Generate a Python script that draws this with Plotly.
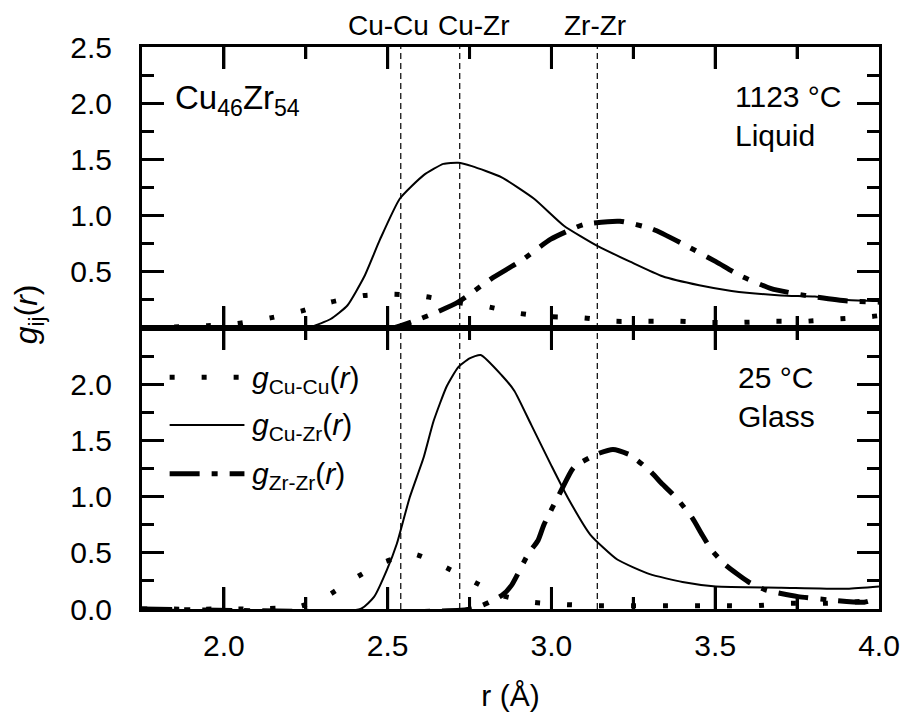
import plotly.graph_objects as go

# ---- partial pair distribution functions, Cu46Zr54 ----
# liquid, 1123 °C
r_cucu_liq = [1.75, 1.949, 2.040, 2.142, 2.236, 2.326, 2.429, 2.519, 2.613, 2.706, 2.803,
              2.902, 2.998, 3.098, 3.194, 3.291, 3.390, 3.487, 3.587, 3.683, 3.777, 3.873,
              3.973, 4.0]
g_cucu_liq = [0.0, 0.02, 0.04, 0.09, 0.15, 0.23, 0.29, 0.30, 0.28, 0.23, 0.19,
              0.13, 0.10, 0.09, 0.06, 0.06, 0.06, 0.05, 0.05, 0.06, 0.06, 0.08,
              0.10, 0.11]

r_cuzr_liq = [1.75, 2.227, 2.266, 2.326, 2.377, 2.429, 2.477, 2.537, 2.610, 2.670, 2.715,
              2.757, 2.848, 2.947, 3.038, 3.140, 3.240, 3.339, 3.451, 3.550, 3.701,
              3.804, 3.903, 4.0]
g_cuzr_liq = [0.0, 0.0, 0.01, 0.08, 0.20, 0.46, 0.79, 1.15, 1.36, 1.46, 1.47,
              1.44, 1.34, 1.15, 0.91, 0.73, 0.59, 0.46, 0.38, 0.33, 0.29,
              0.28, 0.25, 0.24]

r_zrzr_liq = [1.75, 2.513, 2.588, 2.649, 2.715, 2.817, 2.908, 2.998, 3.098, 3.209, 3.309,
              3.400, 3.502, 3.580, 3.671, 3.774, 3.903, 4.0]
g_zrzr_liq = [0.0, 0.0, 0.07, 0.14, 0.23, 0.44, 0.60, 0.79, 0.92, 0.95, 0.88,
              0.75, 0.59, 0.46, 0.35, 0.29, 0.24, 0.23]

# glass, 25 °C
r_cucu_gl = [1.75, 2.227, 2.317, 2.392, 2.483, 2.579, 2.664, 2.751, 2.848, 2.944, 3.038,
             3.134, 3.234, 3.330, 3.430, 3.526, 3.626, 3.722, 3.819, 3.918, 4.0]
g_cucu_gl = [0.0, 0.02, 0.12, 0.26, 0.41, 0.49, 0.39, 0.26, 0.12, 0.06, 0.04,
             0.03, 0.03, 0.03, 0.03, 0.03, 0.03, 0.05, 0.05, 0.06, 0.09]

r_cuzr_gl = [1.75, 2.417, 2.459, 2.498, 2.528, 2.567, 2.610, 2.640, 2.680, 2.715, 2.750,
             2.784, 2.848, 2.887, 2.938, 2.999, 3.050, 3.119, 3.201, 3.300, 3.400,
             3.502, 3.701, 3.903, 4.0]
g_cuzr_gl = [0.0, 0.0, 0.11, 0.35, 0.58, 0.99, 1.35, 1.67, 1.98, 2.15, 2.23,
             2.26, 2.08, 1.94, 1.64, 1.28, 0.99, 0.66, 0.44, 0.31, 0.24,
             0.20, 0.19, 0.18, 0.20]

r_zrzr_gl = [1.75, 2.757, 2.848, 2.878, 2.929, 2.959, 2.977, 3.029, 3.068, 3.140, 3.188,
             3.240, 3.300, 3.339, 3.381, 3.430, 3.460, 3.490, 3.532, 3.602, 3.653,
             3.753, 3.852, 3.955, 4.0]
g_zrzr_gl = [0.0, 0.0, 0.12, 0.21, 0.49, 0.61, 0.75, 1.05, 1.26, 1.38, 1.42,
             1.37, 1.23, 1.11, 0.99, 0.81, 0.66, 0.52, 0.39, 0.24, 0.17,
             0.11, 0.08, 0.06, 0.10]

# nearest-neighbour peak positions (Å)
peak_names = ["Cu-Cu", "Cu-Zr", "Zr-Zr"]
peak_r = [2.54, 2.72, 3.14]
peak_label_shift = [-12, 14, -2]

x_major_ticks = [2.0, 2.5, 3.0, 3.5]
x_minor_ticks = [2.25, 2.75, 3.25, 3.75]
y_ticks_top = [0.5, 1.0, 1.5, 2.0, 2.5]
y_ticks_bottom = [0.0, 0.5, 1.0, 1.5, 2.0]

pair_labels = ["<i>g</i><sub>Cu-Cu</sub>(<i>r</i>)",
               "<i>g</i><sub>Cu-Zr</sub>(<i>r</i>)",
               "<i>g</i><sub>Zr-Zr</sub>(<i>r</i>)"]

FONT = "Liberation Sans, Arial, sans-serif"
BLACK = "black"
PAD = "\u2002\u2009"   # gap between y tick labels and the axis line

WIDTH, HEIGHT = 912, 719
MARGIN = dict(l=142, r=24, t=47, b=107)
PLOT_H = HEIGHT - MARGIN["t"] - MARGIN["b"]
MAJOR_LEN, MINOR_LEN = 22, 12

# line styles per pair
styles = [
    dict(width=5, dash="5px,27px"),              # Cu-Cu: dotted
    dict(width=2, dash="solid"),                 # Cu-Zr: solid
    dict(width=5, dash="30px,12px,6px,12px"),    # Zr-Zr: dash-dot
]

fig = go.Figure()
panels = [
    ("x", "y", [(r_cucu_liq, g_cucu_liq), (r_cuzr_liq, g_cuzr_liq), (r_zrzr_liq, g_zrzr_liq)]),
    ("x2", "y2", [(r_cucu_gl, g_cucu_gl), (r_cuzr_gl, g_cuzr_gl), (r_zrzr_gl, g_zrzr_gl)]),
]
for xa, ya, series in panels:
    for (rv, gv), st, name in zip(series, styles, pair_labels):
        fig.add_trace(go.Scatter(
            x=rv, y=gv, xaxis=xa, yaxis=ya, mode="lines", name=name, showlegend=False,
            line=dict(color=BLACK, width=st["width"], dash=st["dash"],
                      shape="spline", smoothing=0.5)))

frame = dict(showline=True, linewidth=3, linecolor=BLACK, mirror="ticks",
             ticks="inside", ticklen=MAJOR_LEN, tickwidth=3, tickcolor=BLACK,
             showgrid=False, zeroline=False)
minor_ticks = dict(ticks="inside", ticklen=MINOR_LEN, tickwidth=3, tickcolor=BLACK,
                   dtick=0.25)

x_common = dict(frame, range=[1.75, 4.0], tick0=2.0, dtick=0.5,
                minor=dict(minor_ticks, tick0=2.0))
y_common = dict(frame, range=[0, 2.5], tickmode="array",
                minor=dict(minor_ticks, tick0=0.0),
                tickfont=dict(family=FONT, size=30, color=BLACK))

fig.update_layout(
    xaxis=dict(x_common, domain=[0, 1], anchor="y", showticklabels=False),
    yaxis=dict(y_common, domain=[0.5, 1], anchor="x",
               tickvals=y_ticks_top, ticktext=[f"{v:.1f}{PAD}" for v in y_ticks_top]),
    xaxis2=dict(x_common, domain=[0, 1], anchor="y2", showticklabels=True,
                tickformat=".1f", ticklabelstandoff=8,
                tickfont=dict(family=FONT, size=30, color=BLACK),
                title=dict(text="r (Å)", font=dict(family=FONT, size=30, color=BLACK),
                           standoff=24)),
    yaxis2=dict(y_common, domain=[0, 0.5], anchor="x2",
                tickvals=y_ticks_bottom,
                ticktext=[f"{v:.1f}{PAD}" for v in y_ticks_bottom]),
)

# r-axis tick marks on every horizontal frame edge, pointing into each panel
edges = [(1.0, -1), (0.5, +1), (0.5, -1), (0.0, +1)]   # (paper y, direction)
for ticks_r, length in ((x_major_ticks, MAJOR_LEN), (x_minor_ticks, MINOR_LEN)):
    dy = length / PLOT_H
    for tr in ticks_r:
        for ye, sgn in edges:
            fig.add_shape(type="line", xref="x", yref="paper", x0=tr, x1=tr,
                          y0=ye, y1=ye + sgn * dy, line=dict(color=BLACK, width=3))

# vertical markers at the peak positions, spanning both panels
for rp in peak_r:
    fig.add_shape(type="line", xref="x", yref="paper", x0=rp, x1=rp, y0=0, y1=1,
                  line=dict(color=BLACK, width=1.2, dash="6px,4px"))

annotations = []
for name, rp, dx in zip(peak_names, peak_r, peak_label_shift):
    annotations.append(dict(x=rp, xref="x", y=1, yref="paper", yanchor="bottom",
                            xanchor="center", xshift=dx, yshift=4, text=name,
                            showarrow=False,
                            font=dict(family=FONT, size=28, color=BLACK)))

annotations += [
    dict(x=0.042, xref="x domain", y=0.81, yref="y domain", xanchor="left",
         yanchor="middle", text="Cu<sub>46</sub>Zr<sub>54</sub>", showarrow=False,
         font=dict(family=FONT, size=33, color=BLACK)),
    dict(x=0.802, xref="x domain", y=0.756, yref="y domain", xanchor="left",
         yanchor="middle", align="left", text="1123 °C<br>Liquid", showarrow=False,
         font=dict(family=FONT, size=30, color=BLACK)),
    dict(x=0.806, xref="x2 domain", y=0.754, yref="y2 domain", xanchor="left",
         yanchor="middle", align="left", text="25 °C<br>Glass", showarrow=False,
         font=dict(family=FONT, size=30, color=BLACK)),
    # y-axis title, placed left of the tick labels
    dict(x=-0.153, xref="paper", xanchor="center", y=0.525, yref="paper",
         yanchor="middle", text="<i>g</i><sub>ij</sub>(<i>r</i>)", textangle=-90,
         showarrow=False, font=dict(family=FONT, size=32, color=BLACK)),
]

# key: short line samples with their labels inside the lower panel
key_y = [0.825, 0.655, 0.481]
for st, label, ky in zip(styles, pair_labels, key_y):
    fig.add_shape(type="line", xref="x2 domain", yref="y2 domain",
                  x0=0.0375, x1=0.139, y0=ky, y1=ky,
                  line=dict(color=BLACK, width=st["width"], dash=st["dash"]))
    annotations.append(dict(x=0.146, xref="x2 domain", y=ky, yref="y2 domain",
                            xanchor="left", yanchor="middle", yshift=-2, text=label,
                            showarrow=False,
                            font=dict(family=FONT, size=30, color=BLACK)))

fig.update_layout(
    width=WIDTH, height=HEIGHT,
    margin=MARGIN,
    plot_bgcolor="white", paper_bgcolor="white",
    annotations=annotations,
    showlegend=False,
    font=dict(family=FONT, color=BLACK),
)
fig.write_html("out.html")
